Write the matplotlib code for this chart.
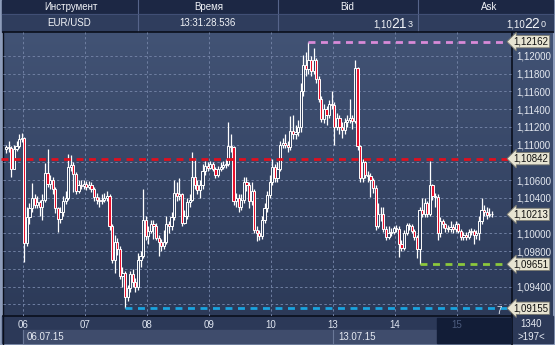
import numpy as np
import matplotlib.pyplot as plt
from matplotlib.patches import Rectangle
from matplotlib.colors import LinearSegmentedColormap
import matplotlib.transforms as mtransforms

plt.rcParams['font.family'] = ['Liberation Sans', 'DejaVu Sans']

W, H = 555, 345

# hourly EUR/USD candles, pips above 1.10000; open = previous close
first_open = 95
close = [97, 96, 73, 95, 98, 106, 108, -11, 18, 28, 40, 32, 35, 30, 38, 68, 56, 60, 50, 28,
         16, 24, 36, 40, 75, 77, 67, 48, 55, 53, 56, 52, 55, 50, 41, 38, 36, 38, 40, 42,
         8, -30, -10, -18, -48, -45, -72, -62, -46, -55, -60, -30, -26, 15, -3, 3, 10, 8, -5, -10,
         -14, -10, 10, 8, 18, 45, 42, 44, 12, 20, 35, 38, 64, 55, 49, 55, 70, 76, 74, 78,
         73, 66, 72, 75, 77, 78, 98, 97, 36, 40, 30, 38, 58, 54, 36, 48, 4, 0, -3, 15,
         28, 43, 58, 75, 62, 72, 100, 102, 100, 97, 115, 112, 114, 120, 160, 190, 185, 196, 183, 195,
         174, 152, 129, 140, 133, 146, 145, 120, 130, 120, 117, 125, 128, 130, 127, 186, 98, 62, 80, 66,
         65, 60, 51, 8, 22, 22, 5, -4, 0, 2, 6, 5, -12, -17, 0, 9, 8, 3, -4, -18,
         26, 22, 34, 22, 54, 42, 41, 0, 14, 10, 6, 5, 7, 5, 10, 3, -4, -2, -4, 1,
         3, -2, 0, 14, 26, 24, 21, 22, 21.3]
high = [100, 104, 98, 100, 104, 112, 113, 109, 30, 34, 57, 44, 42, 38, 44, 79, 95, 66, 63, 52,
        30, 30, 42, 48, 90, 88, 80, 69, 60, 60, 60, 59, 59, 58, 52, 45, 41, 44, 45, 48,
        44, 10, -2, -5, -14, -38, -42, -58, -42, -40, -50, -22, -20, 50, 20, 8, 15, 15, 12, -2,
        -6, 4, 19, 14, 24, 60, 58, 62, 46, 26, 40, 44, 92, 85, 60, 60, 78, 82, 80, 82,
        80, 75, 76, 80, 82, 84, 126, 112, 99, 46, 44, 44, 64, 64, 58, 58, 50, 8, 4, 20,
        34, 48, 66, 84, 78, 80, 104, 108, 112, 104, 132, 134, 122, 128, 170, 201, 205, 216.2, 200, 209,
        198, 178, 155, 146, 144, 150, 160, 148, 136, 133, 125, 130, 134, 152, 134, 196, 188, 100, 84, 82,
        70, 68, 62, 54, 34, 30, 30, 8, 8, 6, 8, 9, 8, -8, 4, 12, 12, 10, 5, -2,
        30, 40, 40, 36, 82, 56, 46, 44, 18, 16, 12, 9, 14, 10, 14, 12, 5, 2, 2, 5,
        6, 5, 4, 20, 40, 32, 30, 28, 25]
low = [91, 92, 64, 72, 93, 96, 103, -32, -14, 10, 24, 28, 28, 20, 15, 35, 52, 50, 44, 23,
       1, 12, 20, 33, 38, 70, 47, 44, 45, 50, 50, 49, 50, 47, 36, 33, 30, 33, 35, 36,
       4, -34, -45, -25, -52, -60, -84.5, -76, -66, -60, -66, -64, -38, -28, -8, -12, 0, -6, -8, -26,
       -20, -18, -12, 0, 4, 15, 36, 38, 8, 10, 16, 30, 36, 50, 44, 40, 50, 66, 70, 72,
       70, 62, 63, 70, 72, 74, 76, 92, 32, 30, 24, 26, 34, 48, 28, 32, 0, -9, -8, -6,
       12, 24, 40, 54, 58, 58, 70, 96, 96, 92, 94, 106, 106, 110, 114, 155, 178, 180, 178, 180,
       170, 148, 125, 124, 122, 130, 140, 100, 116, 112, 108, 112, 120, 124, 118, 124, 94, 58, 58, 62,
       58, 41, 46, 4, 6, 14, 2, -8, -6, -3, -1, 1, -27, -20, -19, -2, 4, 0, -8, -28,
       -34.9, 18, 18, 18, 20, 38, 30, -7, -4, 6, 2, 1, 2, 0, 2, 0, -8, -8, -8, -6,
       -2, -12, -6, -8, 10, 20, 16, 18, 18]

day_starts = [6.5, 30.5, 54.5, 78.5, 102.5, 126.5, 150.5, 174.5]
day_labels = ['06', '07', '08', '09', '10', '13', '14', '15']
price_ticks = np.arange(1.092, 1.1201, 0.002)
hidden_ticks = [1.092, 1.096, 1.102, 1.108]   # covered by the level boxes

# marked levels: price, line colour, first candle of the line (None = label only)
levels = [(1.12162, '#d88ad8', 117), (1.10842, '#e0101e', -2), (1.10213, None, None),
          (1.09651, '#8cc83c', 160), (1.09155, '#1aa3de', 46)]

bid = ('1,10', '21', '3')
ask = ('1,10', '22', '0')


def px(x0, y0, x1, y1):
    return [x0 / W, 1 - y1 / H, (x1 - x0) / W, (y1 - y0) / H]


fig = plt.figure(figsize=(W / 100, H / 100), dpi=100, facecolor='#2c3958')

# ---- background / frame layer in pixel coordinates
bg = fig.add_axes([0, 0, 1, 1], zorder=0)
bg.set_xlim(0, W)
bg.set_ylim(H, 0)
bg.axis('off')
bg.add_patch(Rectangle((0, 0), W, H, color='#8e9dbb'))
bg.add_patch(Rectangle((2, 0), W - 4, 14, color='#1c2744'))
bg.add_patch(Rectangle((2, 14), W - 4, 18, color='#2f3d5d'))
for xd in [138, 278, 418]:
    bg.plot([xd, xd], [0, 32], color='#56648a', lw=0.8)
bg.plot([2, W - 2], [14, 14], color='#45537a', lw=0.6)
bg.add_patch(Rectangle((2, 316), W - 4, 27, color='#2c3958'))
grad = np.linspace(0, 1, 256).reshape(-1, 1)
cmap = LinearSegmentedColormap.from_list('bgc', ['#2c3a58', '#425375'])
bg.imshow(grad, cmap=cmap, extent=[3, W - 2, 316, 32], origin='lower', aspect='auto', zorder=1)
bg.plot([3, W - 2], [32, 32], color='#0a0f1c', lw=1.2, zorder=3)
bg.plot([3, 512], [316, 316], color='#0a0f1c', lw=1.2, zorder=3)
bg.plot([512, 512], [32, 345], color='#0a0f1c', lw=1.2, zorder=3)
bg.plot([2.5, 2.5], [32, 345], color='#0a0f1c', lw=1, zorder=3)

hdr = dict(color='#f2f4f8', fontsize=7, va='center', ha='center')
for lbl, xc in zip(['Инструмент', 'Время', 'Bid', 'Ask'], [71, 209, 347, 489]):
    bg.text(xc, 7, lbl, **hdr)
bg.text(69, 23.5, 'EUR/USD', **hdr)
bg.text(207, 23.5, '13:31:28.536', **hdr)
for parts, xr in [(bid, 413), (ask, 546)]:
    bg.text(xr, 24.5, parts[2], color='#f2f4f8', fontsize=6.5, ha='right', va='center')
    bg.text(xr - 6, 23.5, parts[1], color='#f2f4f8', fontsize=10, ha='right', va='center')
    bg.text(xr - 21, 24.5, parts[0], color='#f2f4f8', fontsize=7, ha='right', va='center')

# date row and the dark box of the current day
bg.add_patch(Rectangle((23, 330), 489 - 23 + 22, 13, color='#3f4c6c', zorder=2))
bg.plot([23, 23], [330, 343], color='#6a7898', lw=0.8, zorder=3)
bg.plot([333, 333], [330, 343], color='#6a7898', lw=0.8, zorder=3)
bg.add_patch(Rectangle((437, 318), 74, 25, color='#121d37', zorder=3))
bg.text(27, 336.5, '06.07.15', color='#e6eaf2', fontsize=7, va='center', zorder=4)
bg.text(338, 336.5, '13.07.15', color='#e6eaf2', fontsize=7, va='center', zorder=4)
bg.text(531, 324, '1340', color='#e6eaf2', fontsize=7, ha='center', va='center', zorder=4)
bg.text(531, 337, '>197<', color='#e6eaf2', fontsize=7, ha='center', va='center', zorder=4)

# ---- price chart
ax = fig.add_axes(px(3, 32, 512, 316), zorder=1)
ax.set_facecolor('none')
ax.set_xlim(-1.24, 195.8)
ax.set_ylim(1.090674, 1.122707)
for s in ax.spines.values():
    s.set_visible(False)

n = len(close)
c = 1.1 + np.array(close) / 10000
o = np.concatenate([[1.1 + first_open / 10000], c[:-1]])
hi = 1.1 + np.array(high) / 10000
lo = 1.1 + np.array(low) / 10000
idx = np.arange(n)
ax.vlines(idx, lo, hi, color='white', lw=0.9, zorder=3)
for i in range(n):
    bottom = min(o[i], c[i])
    hgt = max(abs(c[i] - o[i]), 0.00003)
    fc = '#e8102c' if c[i] < o[i] else '#354463'
    ax.add_patch(Rectangle((i - 0.42, bottom), 0.84, hgt, fc=fc, ec='white', lw=0.7, zorder=4))

ax.set_yticks(price_ticks)
ax.set_yticklabels(['' if any(abs(t - h) < 1e-6 for h in hidden_ticks)
                    else f'{t:.5f}'.replace('.', ',') for t in price_ticks])
ax.yaxis.tick_right()
ax.tick_params(axis='y', length=0, pad=3, labelsize=7, labelcolor='#e4e8f0')
ax.set_xticks(day_starts)
ax.set_xticklabels(day_labels)
ax.tick_params(axis='x', length=0, pad=3, labelsize=7, labelcolor='#dfe5f0')
ax.xaxis.get_ticklabels()[-1].set_color('#4d5c7e')
ax.grid(True, color='#6f7fa2', lw=0.7, ls=(0, (2.5, 2.5)), zorder=1)

trans = mtransforms.blended_transform_factory(ax.transAxes, ax.transData)
for price, col, start in levels:
    if col is not None:
        ax.plot([start, 195.8], [price, price], color=col, lw=2, ls=(0, (2.5, 2)), zorder=5,
                clip_on=False)
    ax.text(1.003, price, f'{price:.5f}'.replace('.', ','), transform=trans, fontsize=7,
            color='#111111', va='center', ha='left', zorder=6, clip_on=False,
            bbox=dict(boxstyle='larrow,pad=0.12', fc='#e7e4d2', ec='#7a7a70', lw=0.6))

ax.text(0.974, 1.0912, '7', color='#e6eaf2', fontsize=7, ha='center', va='center', zorder=6,
        transform=trans)

fig.savefig('out.png', dpi=100, facecolor=fig.get_facecolor())
